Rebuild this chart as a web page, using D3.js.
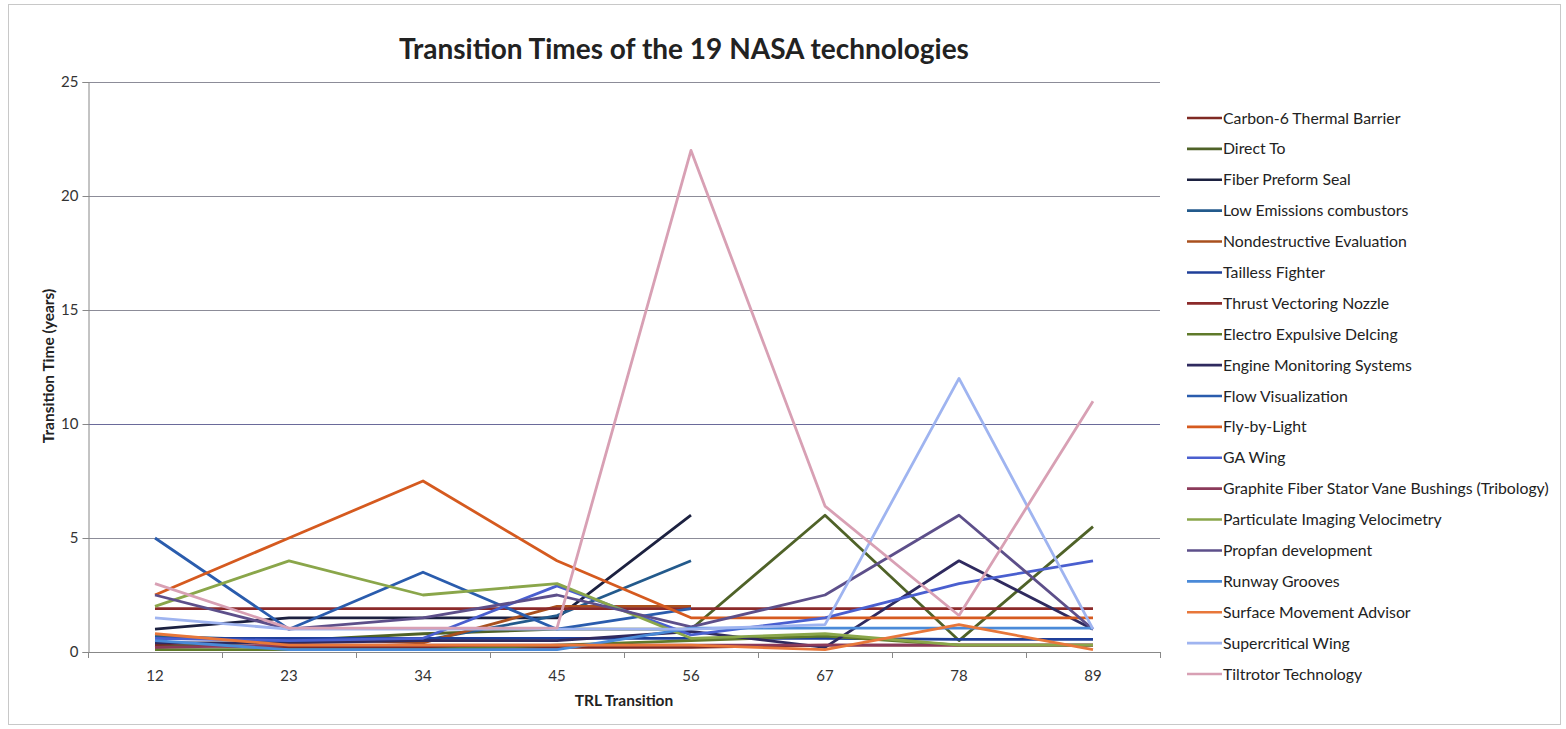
<!DOCTYPE html>
<html><head><meta charset="utf-8">
<script src="https://cdn.jsdelivr.net/npm/d3@7/dist/d3.min.js"></script>
<style>body{margin:0;background:#fff;}svg{display:block;}</style>
</head><body>
<svg id="chart" width="1566" height="729"></svg>
<script>
const categories = ["12","23","34","45","56","67","78","89"];
const yTicks = [0,5,10,15,20,25];
const seriesNames = [
  "Carbon-6 Thermal Barrier","Direct To","Fiber Preform Seal","Low Emissions combustors",
  "Nondestructive Evaluation","Tailless Fighter","Thrust Vectoring Nozzle","Electro Expulsive DeIcing",
  "Engine Monitoring Systems","Flow Visualization","Fly-by-Light","GA Wing",
  "Graphite Fiber Stator Vane Bushings (Tribology)","Particulate Imaging Velocimetry","Propfan development",
  "Runway Grooves","Surface Movement Advisor","Supercritical Wing","Tiltrotor Technology"
];
const carbon6 = [0.3,0.2,0.2,0.2,0.2,0.3,0.3,0.3];
const directTo = [0.2,0.5,0.8,1,1,6,0.5,5.5];
const fiberPreform = [1,1.5,1.5,1.5,6,null,null,null];
const lowEmissions = [0.7,0.5,0.5,1.6,4,null,null,null];
const nondestructive = [0.6,0.6,0.4,2,2,null,null,null];
const taillessFighter = [0.6,0.6,0.6,0.6,0.6,0.6,0.55,0.55];
const thrustVectoring = [1.9,1.9,1.9,1.9,1.9,1.9,1.9,1.9];
const electroExpulsive = [0.1,0.1,0.1,0.3,0.5,0.7,0.3,0.3];
const engineMonitoring = [0.4,0.4,0.5,0.5,0.9,0.2,4,1];
const flowVisualization = [5,1,3.5,1,1.9,null,null,null];
const flyByLight = [2.5,5,7.5,4,1.5,1.5,1.5,1.5];
const gaWing = [0.6,0.5,0.6,2.9,0.75,1.5,3,4];
const graphiteFiber = [0.2,0.3,0.3,0.3,0.3,0.3,0.3,0.3];
const particulate = [2,4,2.5,3,0.6,0.8,0.3,0.3];
const propfan = [2.5,1,1.5,2.5,1.1,2.5,6,1];
const runwayGrooves = [0.5,0.1,0.1,0.1,1.05,1.05,1.05,1.05];
const surfaceMovement = [0.8,0.3,0.3,0.3,0.3,0.1,1.2,0.1];
const supercritical = [1.5,1,1,1,1,1.2,12,1];
const tiltrotor = [3,1.05,1.05,1.05,22,6.4,1.6,11];
const seriesValues = [carbon6,directTo,fiberPreform,lowEmissions,nondestructive,taillessFighter,
  thrustVectoring,electroExpulsive,engineMonitoring,flowVisualization,flyByLight,gaWing,graphiteFiber,
  particulate,propfan,runwayGrooves,surfaceMovement,supercritical,tiltrotor];
const colors = ["#7f2a23","#4f6228","#1c2140","#235a8c","#a9501e","#1f3f99","#8b2a2a","#5f7a2a",
  "#2f2a5f","#2a5cad","#d55a1f","#4a5fcf","#8b3a5a","#8aa64a","#5d4f8a","#4a8ad8","#e8773a","#9fb4f0","#d8a0b4"];

const svg = d3.select("#chart");
const font = "Lato, 'Open Sans', sans-serif";
const L = 88, R = 1160, T = 82, B = 652;

svg.append("rect").attr("x",8.5).attr("y",4.5).attr("width",1552).attr("height",720)
  .attr("fill","#fff").attr("stroke","#c8c8c8");

const x = d3.scalePoint().domain(categories).range([L,R]).padding(0.5);
const xb = d3.scaleBand().domain(categories).range([L,R]);
const y = d3.scaleLinear().domain([0,25]).range([B,T]);

// gridlines
svg.append("g").selectAll("line").data(yTicks.filter(d=>d>0)).join("line")
  .attr("x1",L).attr("x2",R).attr("y1",d=>y(d)+0.5).attr("y2",d=>y(d)+0.5)
  .attr("stroke",d=>d===10?"#6a6a9a":"#8c8c98").attr("stroke-width",1);

// y axis
const ya = svg.append("g").attr("transform",`translate(${L+0.5},0)`)
  .call(d3.axisLeft(y).tickValues(yTicks).tickSize(6).tickPadding(4));
ya.select(".domain").attr("stroke","#888");
ya.selectAll(".tick line").attr("stroke","#888");
ya.selectAll("text").attr("font-family",font).attr("font-size",15).attr("fill","#333");

// x axis
svg.append("line").attr("x1",L).attr("x2",R).attr("y1",B+0.5).attr("y2",B+0.5).attr("stroke","#888");
const bounds = categories.map(c=>xb(c)).concat([R]);
svg.append("g").selectAll("line").data(bounds).join("line")
  .attr("x1",d=>d+0.5).attr("x2",d=>d+0.5).attr("y1",B).attr("y2",B+6).attr("stroke","#888");
svg.append("g").selectAll("text").data(categories).join("text")
  .attr("x",d=>x(d)).attr("y",B+29).attr("text-anchor","middle")
  .attr("font-family",font).attr("font-size",15).attr("fill","#333").text(d=>d);

// lines
const line = d3.line().defined(d=>d.v!==null).x(d=>x(d.c)).y(d=>y(d.v));
seriesValues.forEach((vals,i)=>{
  svg.append("path").datum(vals.map((v,j)=>({c:categories[j],v})))
    .attr("d",line).attr("fill","none").attr("stroke",colors[i])
    .attr("stroke-width",2.8).attr("stroke-linejoin","round");
});

// title
svg.append("text").attr("x",684).attr("y",59).attr("text-anchor","middle")
  .attr("font-family",font).attr("font-weight","bold").attr("font-size",28).attr("fill","#222")
  .text("Transition Times of the 19 NASA technologies");

// axis titles
svg.append("text").attr("transform","translate(54,366) rotate(-90)").attr("text-anchor","middle")
  .attr("font-family",font).attr("font-weight","bold").attr("font-size",15.5).attr("fill","#222")
  .text("Transition Time (years)");
svg.append("text").attr("x",624).attr("y",706).attr("text-anchor","middle")
  .attr("font-family",font).attr("font-weight","bold").attr("font-size",15.5).attr("fill","#222")
  .text("TRL Transition");

// legend
const lg = svg.append("g");
const rowY = d3.scaleLinear().domain([0,seriesNames.length-1]).range([118,674]);
seriesNames.forEach((n,i)=>{
  const yy = rowY(i);
  lg.append("line").attr("x1",1187).attr("x2",1222).attr("y1",yy).attr("y2",yy)
    .attr("stroke",colors[i]).attr("stroke-width",2.6);
  lg.append("text").attr("x",1223).attr("y",yy+5.5).attr("font-family",font).attr("font-size",15.8)
    .attr("fill","#222").text(n);
});
</script>
</body></html>
